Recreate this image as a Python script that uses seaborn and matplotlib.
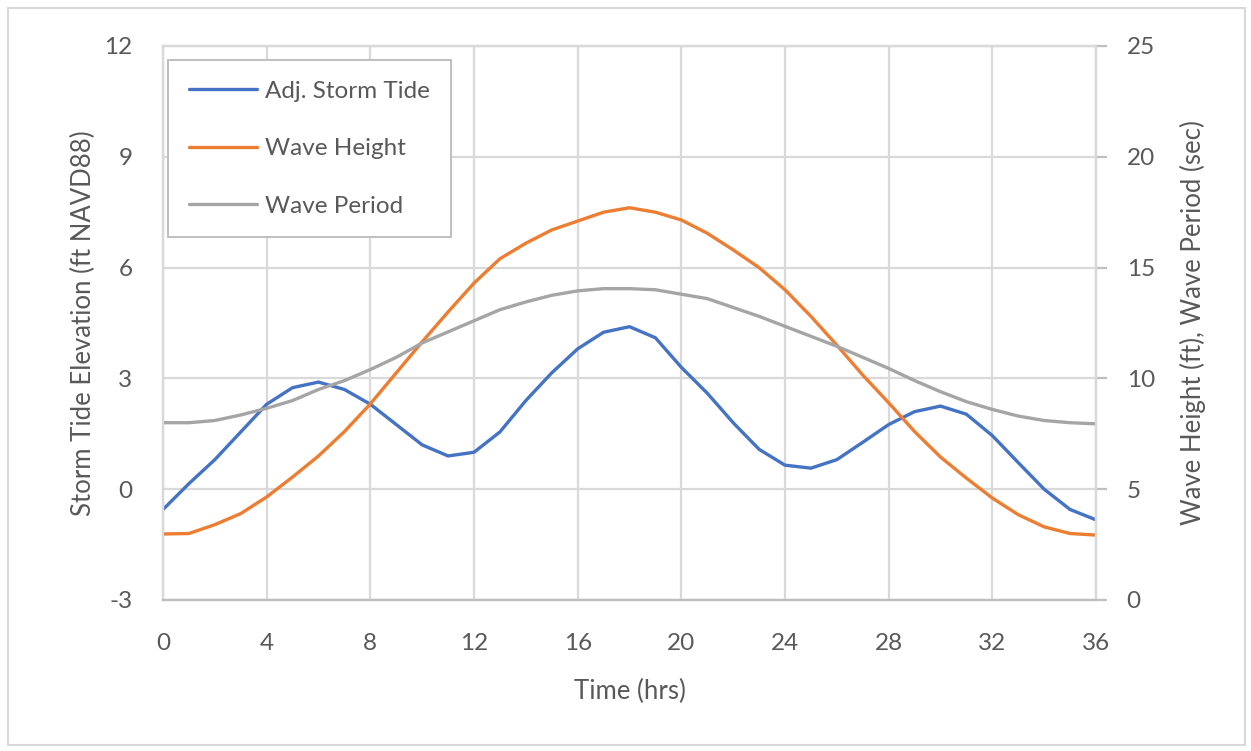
#!/usr/bin/env python3
"""Storm tide, wave height and wave period time series (twin axes)."""

import matplotlib.pyplot as plt
import pandas as pd
import seaborn as sns
from matplotlib.patches import Rectangle

# hourly values
hours = list(range(0, 37))
storm_tide = [-0.55, 0.15, 0.8, 1.55, 2.3, 2.75, 2.9, 2.7, 2.3, 1.75,
              1.2, 0.9, 1.0, 1.55, 2.4, 3.15, 3.8, 4.25, 4.4, 4.1,
              3.3, 2.6, 1.8, 1.08, 0.65, 0.57, 0.8, 1.27, 1.75, 2.1,
              2.25, 2.03, 1.45, 0.72, 0.0, -0.55, -0.83]
wave_height = [2.98, 3.0, 3.4, 3.9, 4.65, 5.55, 6.5, 7.6, 8.85, 10.25,
               11.65, 13.0, 14.3, 15.4, 16.1, 16.7, 17.1, 17.5, 17.7, 17.5,
               17.15, 16.55, 15.8, 15.0, 14.0, 12.8, 11.5, 10.15, 8.9, 7.6,
               6.45, 5.5, 4.6, 3.85, 3.3, 3.0, 2.93]
wave_period = [8.0, 8.0, 8.1, 8.35, 8.65, 9.0, 9.5, 9.9, 10.4, 10.95,
               11.6, 12.1, 12.6, 13.1, 13.45, 13.75, 13.95, 14.05, 14.05, 14.0,
               13.8, 13.6, 13.2, 12.8, 12.35, 11.9, 11.45, 10.95, 10.45, 9.9,
               9.4, 8.95, 8.6, 8.3, 8.1, 8.0, 7.95]

x_ticks = list(range(0, 37, 4))
left_ticks = [-3, 0, 3, 6, 9, 12]
right_ticks = [0, 5, 10, 15, 20, 25]

TEXT = "#595959"
GRID = "#d9d9d9"
BLUE, ORANGE, GREY = "#4472C4", "#ED7D31", "#A5A5A5"

sns.set_style("whitegrid")
plt.rcParams["font.family"] = ["Lato", "DejaVu Sans"]
plt.rcParams["text.color"] = TEXT
plt.rcParams["axes.labelcolor"] = TEXT
plt.rcParams["axes.unicode_minus"] = False
plt.rcParams["lines.solid_joinstyle"] = "round"

df = pd.DataFrame({
    "hour": hours,
    "tide": storm_tide,
    "height": wave_height,
    "period": wave_period,
})

fig = plt.figure(figsize=(12.51, 7.51), dpi=100)
ax = fig.add_axes([163 / 1251, 151 / 751, 933 / 1251, 554 / 751])
ax2 = ax.twinx()

sns.lineplot(data=df, x="hour", y="tide", ax=ax, color=BLUE, lw=2.4,
             label="Adj. Storm Tide", legend=False)
sns.lineplot(data=df, x="hour", y="height", ax=ax2, color=ORANGE, lw=2.4,
             label="Wave Height", legend=False)
sns.lineplot(data=df, x="hour", y="period", ax=ax2, color=GREY, lw=2.4,
             label="Wave Period", legend=False)

ax.set_xlim(0, 36)
ax.set_ylim(-3, 12)
ax2.set_ylim(0, 25)
ax.set_xticks(x_ticks)
ax.set_yticks(left_ticks)
ax2.set_yticks(right_ticks)

ax.grid(True, color=GRID, lw=1.6)
ax2.grid(False)
for a in (ax, ax2):
    for side, sp in a.spines.items():
        sp.set_visible(True)
        sp.set_color(GRID)
        sp.set_linewidth(1.6)
ax.spines["bottom"].set_color("#bfbfbf")
ax2.spines["bottom"].set_color("#bfbfbf")

ax.tick_params(axis="x", length=0, pad=24, labelsize=17.5, colors=TEXT)
ax.tick_params(axis="y", length=0, pad=22, labelsize=17.5, colors=TEXT)
ax2.tick_params(axis="y", length=8, width=1.6, color="#bfbfbf", pad=14,
                labelsize=17.5, labelcolor=TEXT)

ax.set_xlabel("Time (hrs)", fontsize=18.5, labelpad=18)
ax.set_ylabel("Storm Tide Elevation (ft NAVD88)", fontsize=18.5, labelpad=6)
ax2.set_ylabel("Wave Height (ft), Wave Period (sec)", fontsize=18.5,
               labelpad=18, rotation=90)

h1, l1 = ax.get_legend_handles_labels()
h2, l2 = ax2.get_legend_handles_labels()
leg = ax2.legend(h1 + h2, l1 + l2, loc="upper left",
                 bbox_to_anchor=(5 / 933, 1 - 14 / 554), borderaxespad=0,
                 fontsize=17.5, handlelength=2.8, handletextpad=0.35,
                 labelspacing=1.5, borderpad=0.85, fancybox=False,
                 framealpha=1, edgecolor="#bfbfbf")
leg.get_frame().set_linewidth(1.4)
for t in leg.get_texts():
    t.set_color(TEXT)

fig.patches.append(Rectangle((8 / 1251, 6 / 751), 1237 / 1251, 737 / 751,
                             transform=fig.transFigure, fill=False,
                             edgecolor=GRID, lw=1.5))

fig.savefig("out.png", dpi=100)
